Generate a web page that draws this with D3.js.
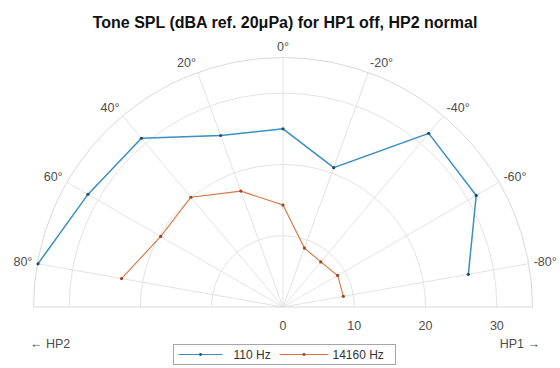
<!DOCTYPE html>
<html>
<head>
<meta charset="utf-8">
<script src="https://cdn.jsdelivr.net/npm/d3@7"></script>
<style>
body { margin: 0; background: #fff; }
text { font-family: "Liberation Sans", Arial, sans-serif; }
</style>
</head>
<body>
<svg id="chart" width="560" height="368"></svg>
<script>
var angles = [80, 60, 40, 20, 0, -20, -40, -60, -80];
var spl110 = [34.9, 31.6, 30.9, 25.6, 25.0, 20.8, 31.8, 31.3, 26.4];
var spl14160 = [23.0, 19.8, 20.1, 17.3, 14.3, 8.8, 8.25, 8.85, 8.6];
var seriesNames = ["110 Hz", "14160 Hz"];
var thetaTicks = [-80, -60, -40, -20, 0, 20, 40, 60, 80];
var rTicks = [0, 10, 20, 30];
var titleText = "Tone SPL (dBA ref. 20\u03bcPa) for HP1 off, HP2 normal";

var cx = 283, cy = 307, R = 249.5;
var svg = d3.select("#chart");

var r = d3.scaleLinear().domain([0, 35]).range([0, R]);
var a = d3.scaleLinear().domain([-90, 90]).range([Math.PI / 2, -Math.PI / 2]);

var g = svg.append("g").attr("transform", "translate(" + cx + "," + cy + ")");

// rings
rTicks.filter(function (d) { return d > 0; }).concat([35]).forEach(function (d) {
  var p = d3.path();
  p.arc(0, 0, r(d), -Math.PI, 0);
  g.append("path").attr("d", p.toString())
    .attr("fill", "none")
    .attr("stroke", d === 35 ? "#d9d9d9" : "#e3e3e3")
    .attr("stroke-width", 1);
});

// spokes
thetaTicks.concat([-90, 90]).forEach(function (t) {
  var ang = a(t);
  g.append("line")
    .attr("x1", 0).attr("y1", 0)
    .attr("x2", R * Math.sin(ang)).attr("y2", -R * Math.cos(ang))
    .attr("stroke", Math.abs(t) === 90 ? "#d9d9d9" : "#e3e3e3")
    .attr("stroke-width", 1);
});

// theta labels
thetaTicks.forEach(function (t) {
  var ang = a(t), ux = Math.sin(ang), uy = -Math.cos(ang);
  g.append("text")
    .attr("x", (R + 5) * ux)
    .attr("y", (R + 5) * uy + uy * 6)
    .attr("dy", "0.35em")
    .attr("text-anchor", ux < -0.1 ? "end" : ux > 0.1 ? "start" : "middle")
    .attr("font-size", 12.5)
    .attr("fill", "#4d4d4d")
    .text(t + "\u00b0");
});

// r labels
rTicks.forEach(function (d) {
  g.append("text")
    .attr("x", r(d)).attr("y", 19)
    .attr("dy", "0.35em")
    .attr("text-anchor", "middle")
    .attr("font-size", 12.5)
    .attr("fill", "#4d4d4d")
    .text(d);
});

svg.append("text").attr("x", 30).attr("y", 344).attr("dy", "0.35em")
  .attr("font-size", 12.5).attr("fill", "#4d4d4d").text("\u2190 HP2");
svg.append("text").attr("x", 540).attr("y", 344).attr("dy", "0.35em")
  .attr("text-anchor", "end")
  .attr("font-size", 12.5).attr("fill", "#4d4d4d").text("HP1 \u2192");

// data
var colors = ["#3a90c2", "#d9723f"];
var markerColors = ["#1d4f6e", "#9a4522"];
var widths = [1.5, 1.1];
var line = d3.lineRadial()
  .angle(function (d) { return a(d[0]); })
  .radius(function (d) { return r(d[1]); });

[spl110, spl14160].forEach(function (vals, i) {
  var pts = angles.map(function (t, j) { return [t, vals[j]]; });
  g.append("path").attr("d", line(pts))
    .attr("fill", "none").attr("stroke", colors[i]).attr("stroke-width", widths[i]);
  g.selectAll(".m" + i).data(pts).enter().append("circle")
    .attr("cx", function (d) { return r(d[1]) * Math.sin(a(d[0])); })
    .attr("cy", function (d) { return -r(d[1]) * Math.cos(a(d[0])); })
    .attr("r", 1.6)
    .attr("fill", markerColors[i]);
});

// title
svg.append("text").attr("x", 285).attr("y", 22).attr("dy", "0.35em")
  .attr("text-anchor", "middle")
  .attr("font-size", 16).attr("font-weight", "bold").attr("fill", "#111")
  .text(titleText);

// legend
var lg = svg.append("g").attr("transform", "translate(173.5,344.5)");
lg.append("rect").attr("width", 222).attr("height", 20)
  .attr("fill", "#fff").attr("stroke", "#a6a6a6").attr("stroke-width", 1);
var items = [{x0: 5, x1: 49, tx: 60}, {x0: 106, x1: 155, tx: 159}];
items.forEach(function (it, i) {
  lg.append("line").attr("x1", it.x0).attr("x2", it.x1).attr("y1", 10).attr("y2", 10)
    .attr("stroke", colors[i]).attr("stroke-width", 1);
  lg.append("circle").attr("cx", (it.x0 + it.x1) / 2).attr("cy", 10).attr("r", 1.4)
    .attr("fill", markerColors[i]);
  lg.append("text").attr("x", it.tx).attr("y", 10).attr("dy", "0.35em")
    .attr("font-size", 12).attr("fill", "#333").text(seriesNames[i]);
});
</script>
</body>
</html>
